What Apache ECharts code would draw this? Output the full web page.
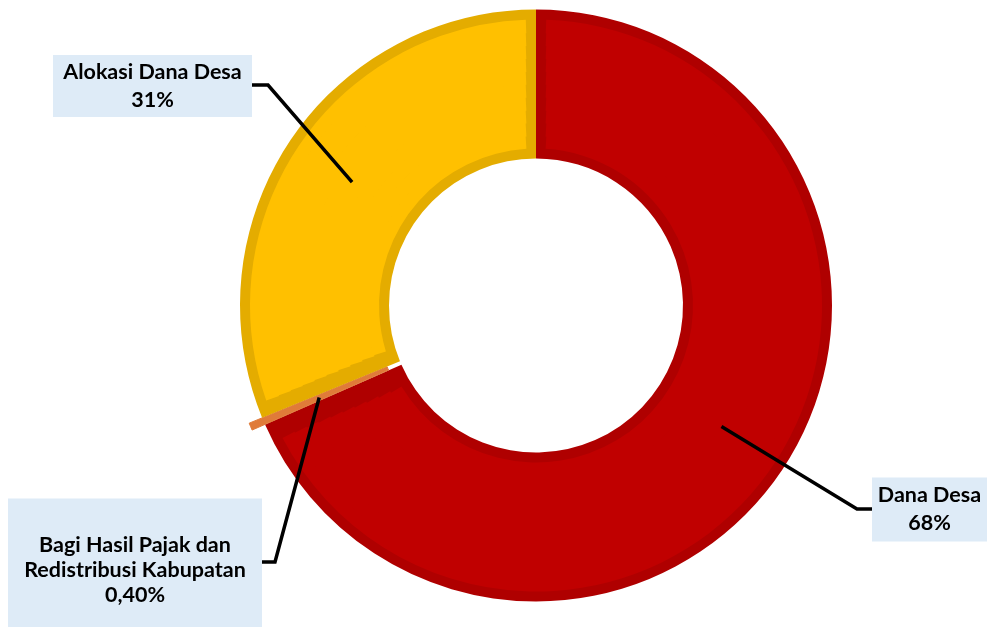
<!DOCTYPE html>
<html>
<head>
<meta charset="utf-8">
<script src="https://cdn.jsdelivr.net/npm/echarts@6/dist/echarts.min.js"></script>
<style>
  html, body { margin: 0; padding: 0; background: #ffffff; }
  #chart { width: 992px; height: 627px; }
</style>
</head>
<body>
<div id="chart"></div>
<script>
// Composition of village revenue sources
const categories = ['Dana Desa', 'Bagi Hasil Pajak dan\nRedistribusi Kabupatan', 'Alokasi Dana Desa'];
const values = [68, 0.4, 31];
const valueLabels = ['68%', '0,40%', '31%'];
const fillColors = ['#C00000', '#E07B39', '#FFC000'];
const edgeColors = ['#AF0000', '#E07B39', '#E4AC00'];
const explodedIndex = 1;

// Ring geometry (px)
const CX = 536, CY = 305.5;
const R_IN = 147, R_OUT = 296;
const EDGE = 10;          // darker outline band inside every slice
const EXPLODE = 14;       // offset of the pulled-out slice
const LINE_R = (R_IN + R_OUT) / 2;

// Label boxes: centre, content width, padding, line height, leader elbow and box edge it meets
const labelPlacement = [
  { cx: 929.5, cy: 509.5, width: 103, padding: [4, 6],   lineHeight: 28, elbow: [857, 509], edgeX: 872 },
  { cx: 135,   cy: 570,   width: 242, padding: [34, 6],  lineHeight: 25, elbow: [275, 562], edgeX: 262 },
  { cx: 152.5, cy: 86,    width: 185, padding: [3, 7],   lineHeight: 28, elbow: [268, 85],  edgeX: 252 }
];

const total = values.reduce((a, b) => a + b, 0);
function midAngle(i) {
  let before = 0;
  for (let k = 0; k < i; k++) before += values[k];
  return (before + values[i] / 2) / total * 2 * Math.PI;   // clockwise from 12 o'clock
}
function leaderStart(i) {
  const a = midAngle(i);
  const r = LINE_R + (i === explodedIndex ? EXPLODE : 0);
  return [CX + r * Math.sin(a), CY - r * Math.cos(a)];
}

const series = [];

// Darker base ring: provides the outline band of each slice
series.push({
  type: 'pie',
  z: 1,
  center: [CX, CY],
  radius: [R_IN, R_OUT],
  startAngle: 90,
  clockwise: true,
  animation: false,
  selectedMode: 'single',
  selectedOffset: EXPLODE,
  label: { show: false },
  labelLine: { show: false },
  emphasis: { disabled: true },
  data: categories.map((name, i) => ({
    name,
    value: values[i],
    selected: i === explodedIndex,
    itemStyle: { color: edgeColors[i], borderWidth: i === explodedIndex ? 1 : 0, borderColor: edgeColors[i] },
    select: { itemStyle: { color: edgeColors[i], borderWidth: 1, borderColor: edgeColors[i] } }
  }))
});

// Lighter fill, inset by EDGE on all sides; split into thin rings so the
// angular inset stays a constant width from the hole to the rim
const RINGS = 10;
const innerFill = R_IN + EDGE, outerFill = R_OUT - EDGE;
const step = (outerFill - innerFill) / RINGS;
for (let k = 0; k < RINGS; k++) {
  const r0 = innerFill + k * step;
  const r1 = r0 + step;
  const rMid = (r0 + r1) / 2;
  series.push({
    type: 'pie',
    z: 2,
    center: [CX, CY],
    radius: [k === 0 ? r0 : r0 - 0.6, k === RINGS - 1 ? r1 : r1 + 0.6],
    startAngle: 90,
    clockwise: true,
    padAngle: (2 * EDGE / rMid) * 180 / Math.PI,
    animation: false,
    silent: true,
    label: { show: false },
    labelLine: { show: false },
    emphasis: { disabled: true },
    data: categories.map((name, i) => ({
      name,
      value: values[i],
      itemStyle: i === explodedIndex
        ? { color: 'rgba(0,0,0,0)', borderWidth: 0 }
        : { color: fillColors[i], borderWidth: 0 }
    }))
  });
}

// Labels with leader lines
series.push({
  type: 'pie',
  z: 5,
  center: [CX, CY],
  radius: [0, LINE_R],
  startAngle: 90,
  clockwise: true,
  animation: false,
  silent: true,
  avoidLabelOverlap: false,
  itemStyle: { color: 'rgba(0,0,0,0)', borderWidth: 0 },
  emphasis: { disabled: true },
  label: {
    show: true,
    position: 'outside',
    formatter: p => p.name + '\n' + valueLabels[p.dataIndex],
    color: '#000000',
    fontFamily: 'Lato',
    fontWeight: 'bold',
    fontSize: 21.5,
    overflow: 'none',
    backgroundColor: '#DEEBF7',
    align: 'center'
  },
  labelLine: { show: true, length: 20, length2: 10, smooth: false, lineStyle: { color: '#000000', width: 3.5 } },
  labelLayout: p => {
    const s = labelPlacement[p.dataIndex];
    return {
      x: s.cx,
      y: s.cy,
      align: 'center',
      verticalAlign: 'middle',
      labelLinePoints: [leaderStart(p.dataIndex), s.elbow, [s.edgeX, s.elbow[1]]]
    };
  },
  data: categories.map((name, i) => ({
    name,
    value: values[i],
    label: {
      width: labelPlacement[i].width,
      padding: labelPlacement[i].padding,
      lineHeight: labelPlacement[i].lineHeight
    }
  }))
});

const chart = echarts.init(document.getElementById('chart'), null, { renderer: 'canvas' });
chart.setOption({
  backgroundColor: '#ffffff',
  animation: false,
  series
});
</script>
</body>
</html>
